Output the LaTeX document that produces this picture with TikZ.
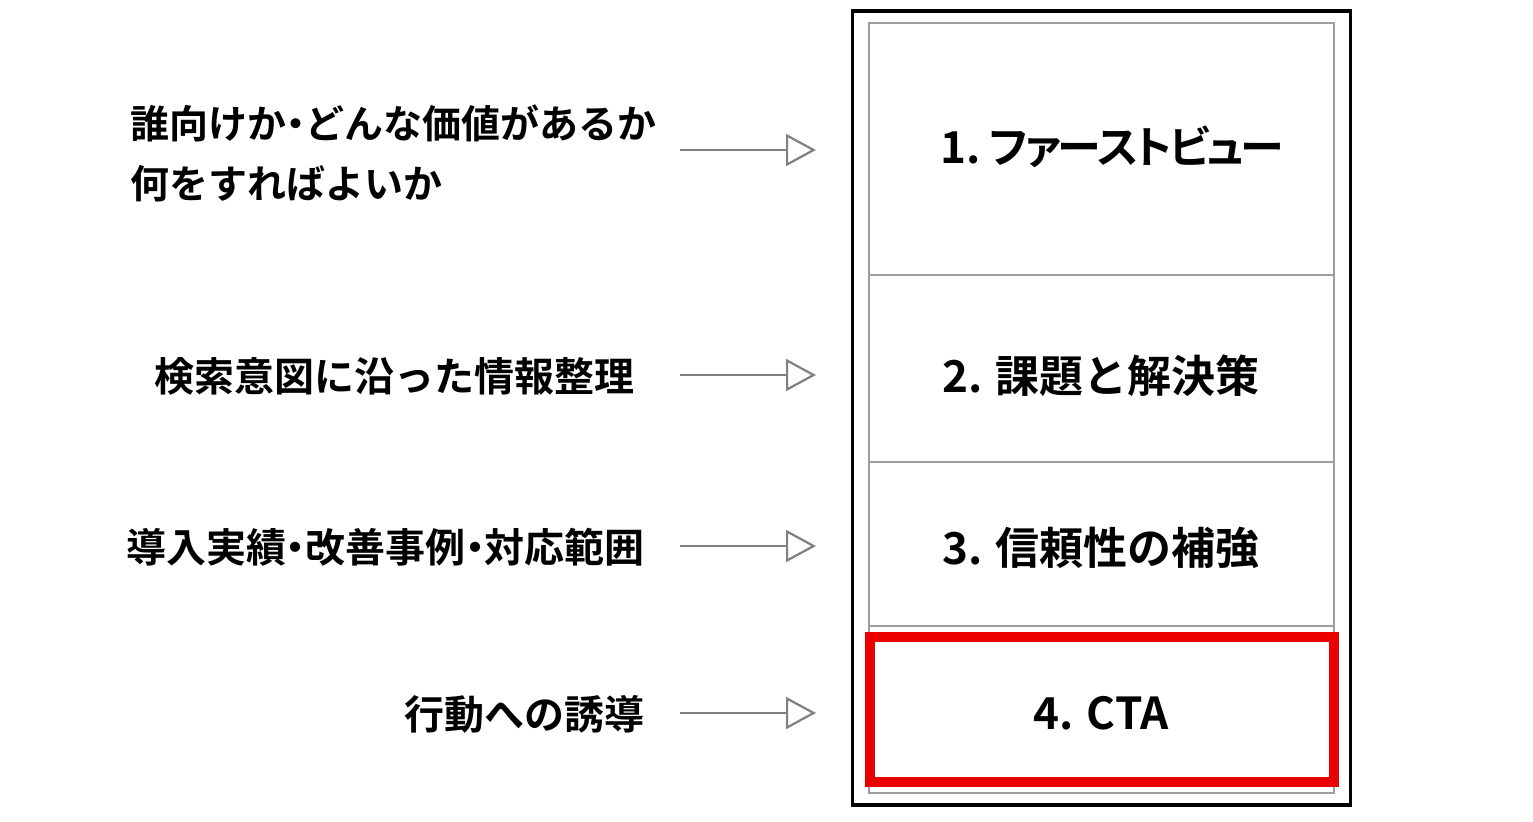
\documentclass[tikz,border=0pt]{standalone}
\usepackage{fontspec}
\setmainfont{Noto Sans CJK JP}[BoldFont={* Bold}]
\newfontfamily\jppalt{Noto Sans CJK JP}[BoldFont={* Bold}, RawFeature=+palt]
\usetikzlibrary{arrows.meta}
\definecolor{framegray}{gray}{0.62}
\definecolor{arrowgray}{gray}{0.5}
\definecolor{ctared}{RGB}{235,0,0}
\newcommand{\ndot}{\kern-0.26em・\kern-0.26em}
\newcommand{\tk}{\kern-0.07em}
\begin{document}
\begin{tikzpicture}[x=0.5pt,y=-0.5pt,
  lbl/.style={font=\fontsize{20pt}{30pt}\selectfont\bfseries, inner sep=0pt},
  boxtxt/.style={font=\fontsize{22pt}{30pt}\selectfont\bfseries},
  sect/.style={draw=framegray, line width=1.3pt, minimum width=232.5pt, inner sep=0pt},
  pointer/.style={draw=arrowgray, line width=1.1pt, -{Triangle[open, length=15pt, width=16pt, fill=white]}}]
\useasboundingbox (0,0) rectangle (1533,821);
% outer frame
\node[draw=black, line width=1.6pt, minimum width=249pt, minimum height=397pt, inner sep=0pt] (frame) at (1101.5,408) {};
% sections
\node[sect, minimum height=126pt] (s1) at (1101.5,149) {};
\node[sect, minimum height=93.5pt] (s2) at (1101.5,368.5) {};
\node[sect, minimum height=82pt] (s3) at (1101.5,544) {};
\node[sect, minimum height=83.5pt] (s4) at (1101.5,709.5) {};
% red CTA box
\node[draw=ctared, line width=5pt, minimum width=232pt, minimum height=72.5pt, inner sep=0pt] (cta) at (1102,709.5) {};
% box texts
\node[boxtxt, font=\fontsize{22pt}{30pt}\jppalt\bfseries] (t1) at (1112,147) {1.\kern0.2em フ\tk ァ\tk ー\tk ス\tk ト\tk ビ\tk ュ\tk ー};
\node[boxtxt] (t2) at (1101,376) {2. 課題と解決策};
\node[boxtxt] (t3) at (1101,548) {3. 信頼性の補強};
\node[boxtxt] (t4) at (1101,713) {4. CTA};
% left labels
\node[lbl, align=left, anchor=west, font=\fontsize{19.5pt}{30pt}\selectfont\bfseries] (l1) at (130,153) {誰向けか\ndot どんな価値があるか\\何をすればよいか};
\node[lbl, anchor=east] (l2) at (635,376) {検索意図に沿った情報整理};
\node[lbl, anchor=east] (l3) at (645,547) {導入実績\ndot 改善事例\ndot 対応範囲};
\node[lbl, anchor=east] (l4) at (645,714) {行動への誘導};
% arrows
\coordinate (a1s) at (680,150); \coordinate (a1e) at (816,150);
\coordinate (a2s) at (680,375); \coordinate (a2e) at (816,375);
\coordinate (a3s) at (680,546); \coordinate (a3e) at (816,546);
\coordinate (a4s) at (680,713); \coordinate (a4e) at (816,713);
\draw[pointer] (a1s) -- (a1e);
\draw[pointer] (a2s) -- (a2e);
\draw[pointer] (a3s) -- (a3e);
\draw[pointer] (a4s) -- (a4e);
\end{tikzpicture}
\end{document}
